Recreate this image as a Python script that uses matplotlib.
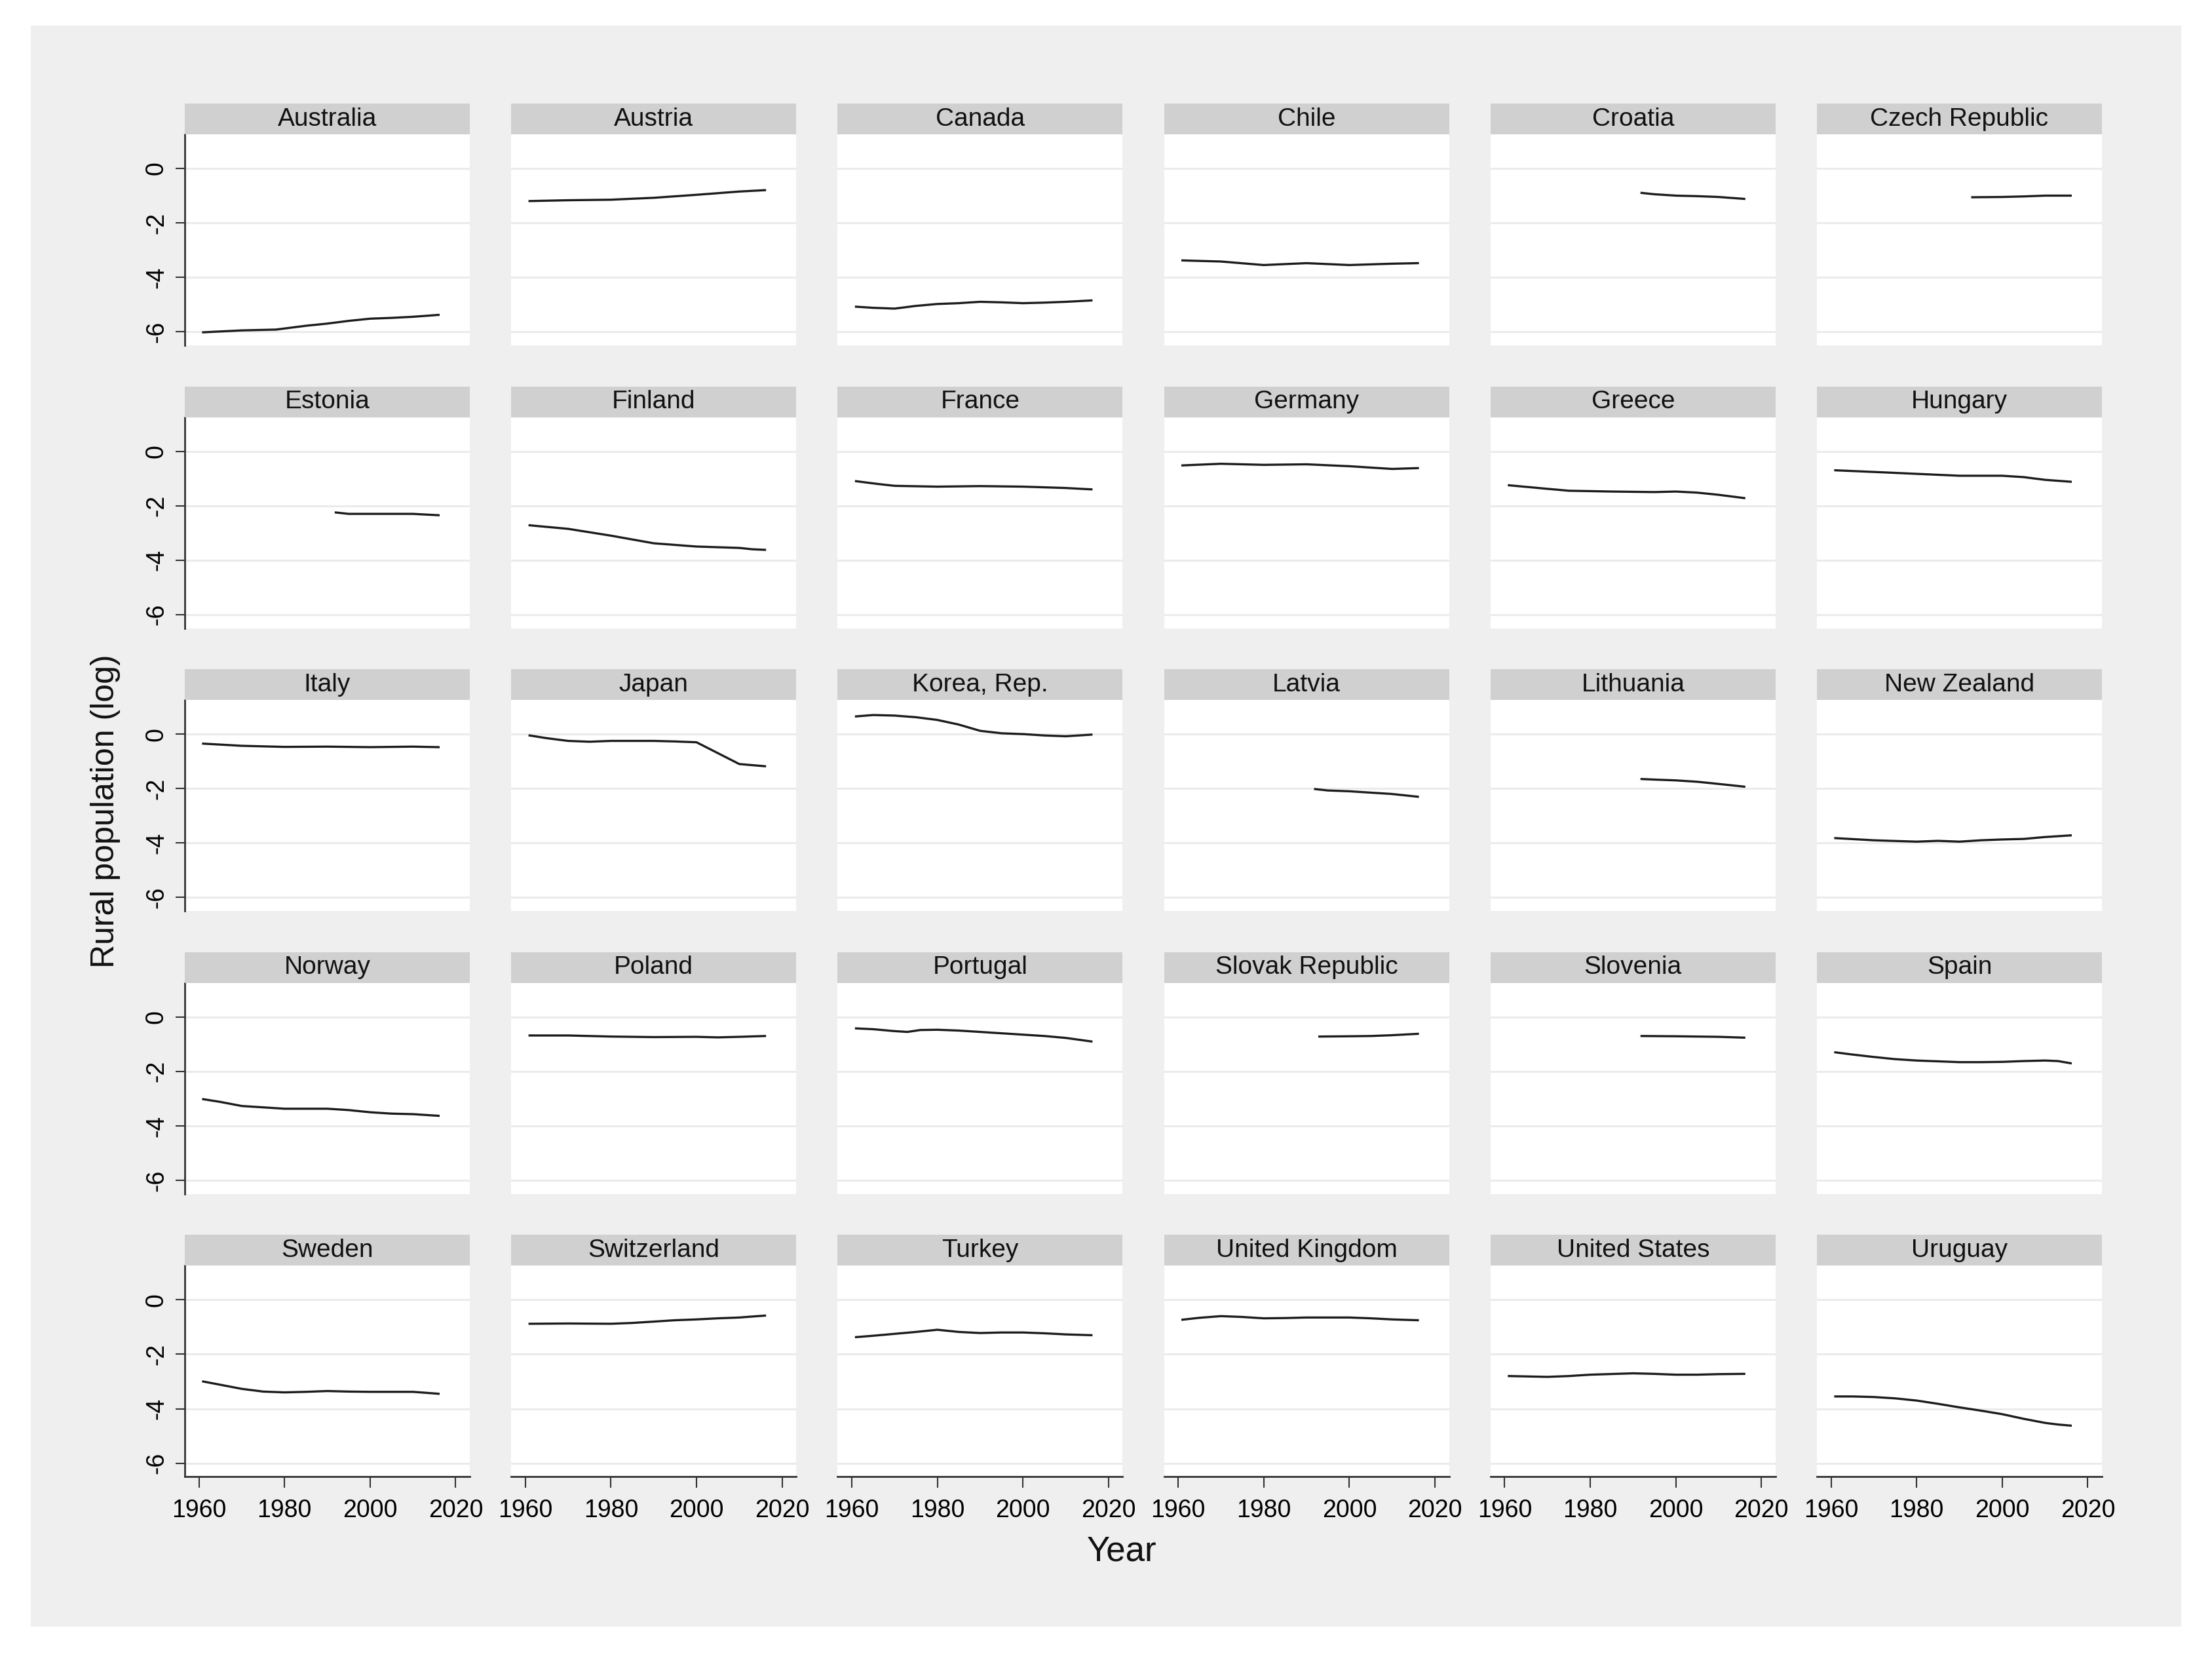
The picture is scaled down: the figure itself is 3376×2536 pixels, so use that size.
import matplotlib
matplotlib.use("Agg")
import matplotlib.pyplot as plt
from matplotlib.patches import Rectangle

plt.rcParams['font.family'] = ['Liberation Sans', 'DejaVu Sans']
plt.rcParams['axes.unicode_minus'] = False

countries = ["Australia", "Austria", "Canada", "Chile", "Croatia", "Czech Republic",
             "Estonia", "Finland", "France", "Germany", "Greece", "Hungary",
             "Italy", "Japan", "Korea, Rep.", "Latvia", "Lithuania", "New Zealand",
             "Norway", "Poland", "Portugal", "Slovak Republic", "Slovenia", "Spain",
             "Sweden", "Switzerland", "Turkey", "United Kingdom", "United States", "Uruguay"]

# (years, log rural population) per country
australia_x = [1961, 1970, 1978, 1985, 1990, 1995, 2000, 2005, 2010, 2016]
australia_y = [-6.02, -5.95, -5.92, -5.78, -5.70, -5.60, -5.52, -5.49, -5.45, -5.38]
austria_x = [1961, 1970, 1980, 1990, 2000, 2010, 2016]
austria_y = [-1.20, -1.17, -1.15, -1.08, -0.97, -0.85, -0.80]
canada_x = [1961, 1965, 1970, 1975, 1980, 1985, 1990, 1995, 2000, 2005, 2010, 2016]
canada_y = [-5.08, -5.12, -5.15, -5.05, -4.98, -4.95, -4.90, -4.92, -4.95, -4.93, -4.90, -4.85]
chile_x = [1961, 1970, 1980, 1990, 2000, 2010, 2016]
chile_y = [-3.38, -3.42, -3.55, -3.48, -3.55, -3.50, -3.48]
croatia_x = [1992, 1995, 2000, 2005, 2010, 2016]
croatia_y = [-0.90, -0.95, -1.00, -1.02, -1.05, -1.12]
czech_x = [1993, 2000, 2005, 2010, 2016]
czech_y = [-1.06, -1.05, -1.03, -1.00, -1.00]
estonia_x = [1992, 1995, 2000, 2005, 2010, 2016]
estonia_y = [-2.25, -2.30, -2.30, -2.30, -2.30, -2.35]
finland_x = [1961, 1970, 1980, 1990, 2000, 2010, 2013, 2016]
finland_y = [-2.72, -2.85, -3.10, -3.38, -3.50, -3.55, -3.60, -3.62]
france_x = [1961, 1966, 1970, 1980, 1990, 2000, 2010, 2016]
france_y = [-1.10, -1.20, -1.27, -1.30, -1.28, -1.30, -1.35, -1.40]
germany_x = [1961, 1970, 1980, 1990, 2000, 2010, 2016]
germany_y = [-0.52, -0.46, -0.50, -0.48, -0.55, -0.65, -0.62]
greece_x = [1961, 1970, 1975, 1985, 1995, 2000, 2005, 2010, 2016]
greece_y = [-1.25, -1.38, -1.45, -1.48, -1.50, -1.48, -1.52, -1.60, -1.72]
hungary_x = [1961, 1970, 1980, 1990, 2000, 2005, 2010, 2016]
hungary_y = [-0.70, -0.76, -0.83, -0.90, -0.90, -0.95, -1.05, -1.12]
italy_x = [1961, 1970, 1980, 1990, 2000, 2010, 2016]
italy_y = [-0.35, -0.43, -0.47, -0.46, -0.48, -0.46, -0.48]
japan_x = [1961, 1965, 1970, 1975, 1980, 1985, 1990, 1995, 2000, 2005, 2010, 2016]
japan_y = [-0.05, -0.15, -0.25, -0.28, -0.25, -0.25, -0.25, -0.27, -0.30, -0.70, -1.10, -1.18]
korea_x = [1961, 1965, 1970, 1975, 1980, 1985, 1990, 1995, 2000, 2005, 2010, 2016]
korea_y = [0.65, 0.70, 0.68, 0.62, 0.52, 0.35, 0.12, 0.03, 0.00, -0.05, -0.08, -0.02]
latvia_x = [1992, 1995, 2000, 2005, 2010, 2016]
latvia_y = [-2.02, -2.07, -2.10, -2.15, -2.20, -2.30]
lithuania_x = [1992, 1995, 2000, 2005, 2010, 2016]
lithuania_y = [-1.65, -1.67, -1.70, -1.75, -1.83, -1.93]
newzealand_x = [1961, 1970, 1980, 1985, 1990, 1995, 2000, 2005, 2010, 2016]
newzealand_y = [-3.82, -3.90, -3.95, -3.92, -3.95, -3.90, -3.87, -3.85, -3.78, -3.72]
norway_x = [1961, 1965, 1970, 1975, 1980, 1990, 1995, 2000, 2005, 2010, 2016]
norway_y = [-3.02, -3.12, -3.27, -3.32, -3.37, -3.37, -3.42, -3.50, -3.55, -3.57, -3.63]
poland_x = [1961, 1970, 1980, 1990, 2000, 2005, 2010, 2016]
poland_y = [-0.68, -0.68, -0.72, -0.74, -0.73, -0.75, -0.73, -0.70]
portugal_x = [1961, 1965, 1970, 1973, 1976, 1980, 1985, 1990, 1995, 2000, 2005, 2010, 2016]
portugal_y = [-0.42, -0.45, -0.52, -0.55, -0.48, -0.47, -0.50, -0.55, -0.60, -0.65, -0.70, -0.77, -0.90]
slovakia_x = [1993, 2000, 2005, 2010, 2016]
slovakia_y = [-0.72, -0.71, -0.70, -0.67, -0.62]
slovenia_x = [1992, 2000, 2005, 2010, 2016]
slovenia_y = [-0.70, -0.71, -0.72, -0.73, -0.76]
spain_x = [1961, 1965, 1970, 1975, 1980, 1985, 1990, 1995, 2000, 2005, 2010, 2013, 2016]
spain_y = [-1.30, -1.38, -1.47, -1.55, -1.60, -1.63, -1.66, -1.66, -1.65, -1.62, -1.60, -1.62, -1.70]
sweden_x = [1961, 1965, 1970, 1975, 1980, 1985, 1990, 1995, 2000, 2005, 2010, 2016]
sweden_y = [-3.00, -3.12, -3.27, -3.37, -3.40, -3.38, -3.35, -3.37, -3.38, -3.38, -3.38, -3.45]
switzerland_x = [1961, 1970, 1980, 1985, 1990, 1995, 2000, 2005, 2010, 2016]
switzerland_y = [-0.88, -0.87, -0.88, -0.85, -0.80, -0.75, -0.72, -0.68, -0.65, -0.58]
turkey_x = [1961, 1965, 1970, 1975, 1980, 1985, 1990, 1995, 2000, 2005, 2010, 2016]
turkey_y = [-1.37, -1.32, -1.25, -1.18, -1.10, -1.18, -1.22, -1.20, -1.20, -1.23, -1.27, -1.30]
uk_x = [1961, 1965, 1970, 1975, 1980, 1985, 1990, 2000, 2005, 2010, 2016]
uk_y = [-0.73, -0.66, -0.60, -0.63, -0.68, -0.67, -0.65, -0.65, -0.68, -0.72, -0.75]
us_x = [1961, 1970, 1975, 1980, 1990, 1995, 2000, 2005, 2010, 2016]
us_y = [-2.80, -2.83, -2.80, -2.75, -2.70, -2.72, -2.75, -2.75, -2.73, -2.72]
uruguay_x = [1961, 1965, 1970, 1975, 1980, 1985, 1990, 1995, 2000, 2005, 2010, 2013, 2016]
uruguay_y = [-3.55, -3.55, -3.57, -3.62, -3.70, -3.82, -3.95, -4.07, -4.20, -4.37, -4.52, -4.58, -4.62]

series_x = [australia_x, austria_x, canada_x, chile_x, croatia_x, czech_x,
            estonia_x, finland_x, france_x, germany_x, greece_x, hungary_x,
            italy_x, japan_x, korea_x, latvia_x, lithuania_x, newzealand_x,
            norway_x, poland_x, portugal_x, slovakia_x, slovenia_x, spain_x,
            sweden_x, switzerland_x, turkey_x, uk_x, us_x, uruguay_x]
series_y = [australia_y, austria_y, canada_y, chile_y, croatia_y, czech_y,
            estonia_y, finland_y, france_y, germany_y, greece_y, hungary_y,
            italy_y, japan_y, korea_y, latvia_y, lithuania_y, newzealand_y,
            norway_y, poland_y, portugal_y, slovakia_y, slovenia_y, spain_y,
            sweden_y, switzerland_y, turkey_y, uk_y, us_y, uruguay_y]

x_ticks = [1960, 1980, 2000, 2020]
y_ticks = [0, -2, -4, -6]

W, H = 3376, 2536
fig = plt.figure(figsize=(W / 100, H / 100), dpi=100)
fig.patch.set_facecolor('white')

# gray plot region background
bg = fig.add_axes([0, 0, 1, 1], zorder=-10)
bg.set_xlim(0, W); bg.set_ylim(H, 0)
bg.axis('off')
bg.add_patch(Rectangle((47, 39), 3329 - 47, 2482 - 39, facecolor='#efefef', edgecolor='none'))

col_left0, col_step, ax_w = 282, 498.2, 435
row_top0, row_step, ax_h, strip_h = 205, 431.6, 322, 47

for i, name in enumerate(countries):
    r, c = divmod(i, 6)
    left = col_left0 + c * col_step
    top = row_top0 + r * row_step
    ax = fig.add_axes([left / W, 1 - (top + ax_h) / H, ax_w / W, ax_h / H])
    ax.set_facecolor('white')
    ax.plot(series_x[i], series_y[i], color='#1c1c1c', lw=2.4, zorder=3)
    ax.set_xlim(1956.7, 2023.3)
    ax.set_ylim(-6.5, 1.25)
    ax.set_yticks(y_ticks)
    ax.set_xticks(x_ticks)
    ax.grid(axis='y', color='#ebebeb', lw=2.2, zorder=1)
    ax.grid(axis='x', visible=False)
    for s in ['top', 'right']:
        ax.spines[s].set_visible(False)
    ax.spines['left'].set_visible(c == 0)
    ax.spines['bottom'].set_visible(r == 4)
    ax.spines['left'].set_color('#333333')
    ax.spines['bottom'].set_color('#333333')
    ax.spines['left'].set_linewidth(2)
    ax.spines['bottom'].set_linewidth(2)
    ax.tick_params(axis='y', left=(c == 0), labelleft=(c == 0), length=10, width=1.5,
                   color='#333333', labelsize=27, pad=8, labelrotation=90)
    ax.tick_params(axis='x', bottom=(r == 4), labelbottom=(r == 4), length=12, width=1.5,
                   color='#333333', labelsize=27, pad=12)
    if c == 0:
        for lab in ax.get_yticklabels():
            lab.set_verticalalignment('center')
    # strip
    sax = fig.add_axes([left / W, 1 - top / H, ax_w / W, strip_h / H])
    sax.set_facecolor('#d0d0d0')
    sax.set_xticks([]); sax.set_yticks([])
    for s in sax.spines.values():
        s.set_visible(False)
    sax.text(0.5, 0.5, name, ha='center', va='center', fontsize=28, color='#111111',
             transform=sax.transAxes)

fig.text(161 / W, 1 - 1238 / H, 'Rural population (log)', rotation=90, ha='center',
         va='center', fontsize=36, color='#111111')
fig.text(1712 / W, 1 - 2368 / H, 'Year', ha='center', va='center', fontsize=38,
         color='#111111')

fig.savefig('out.png', dpi=100, facecolor='white')
